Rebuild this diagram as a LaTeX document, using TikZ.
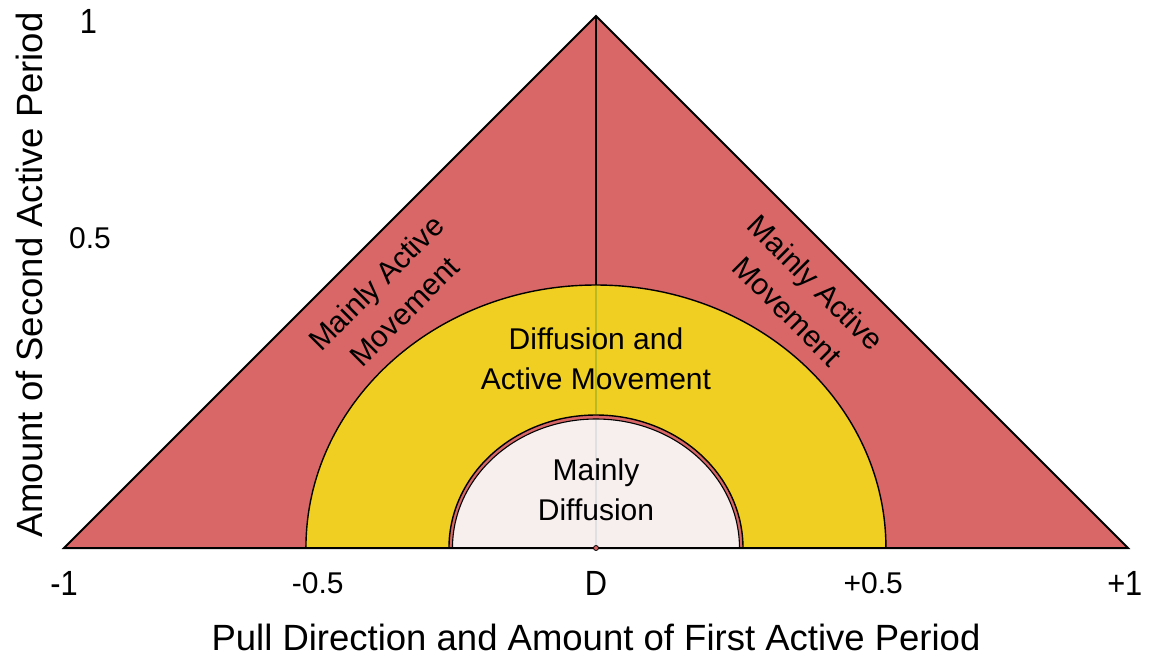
\documentclass[tikz,border=0pt]{standalone}
\usepackage{fontspec}
\setmainfont{Liberation Sans}
\usepackage{graphicx}
\usepackage{tikz}
\usetikzlibrary{
	positioning,
	calc
}
\usepackage{xcolor}

\definecolor{activered}{RGB}{217,103,103}
\definecolor{mixyellow}{RGB}{240,206,34}
\definecolor{diffwhite}{RGB}{247,238,238}
\definecolor{oliveline}{RGB}{185,185,35}

\newcommand{\narrowtick}[1]{\scalebox{0.88}[1]{#1}}

\begin{document}
\begin{tikzpicture}[x=532pt,y=532pt,
		region/.style={draw=black, line width=1.4pt},
		lbl/.style={font=\fontsize{30}{40}\selectfont, align=center, inner sep=0pt},
		bigtick/.style={font=\fontsize{35}{40}\selectfont, inner sep=0pt},
		bigl/.style={font=\fontsize{36.5}{40}\selectfont, inner sep=0pt}]
		
		\useasboundingbox (-1.1203,-0.2086) rectangle (1.0470,1.0301);
		
		% Triangle
		\fill[activered] (-1,0) -- (0,1) -- (1,0) -- cycle;
		\draw[line width=1.6pt] (0,1) -- (0,0.494);
		
		% Diffusion and active movement
		\draw[region, fill=mixyellow]
		(0.545,0) arc[start angle=0, end angle=180, x radius=290pt, y radius=263pt] -- cycle;
		\draw[line width=1.6pt, oliveline] (0,0.492) -- (0,0.252);
		
		% Mainly diffusion
		\draw[region, fill=activered]
		(0.2763,0) arc[start angle=0, end angle=180, x radius=147pt, y radius=133pt] -- cycle;
		\draw[line width=1.1pt, fill=diffwhite]
		(0.2697,0) arc[start angle=0, end angle=180, x radius=143.5pt, y radius=129pt] -- cycle;
		\draw[line width=1.2pt, black!12] (0,0.24) -- (0,0.004);
		
		% Outline
		\draw[line width=2pt, line join=miter] (-1,0) -- (0,1) -- (1,0) -- cycle;
		\draw[fill=activered, line width=0.8pt] (0,0) circle (2.5pt);
		
		% Axis labels
		\node[bigl, rotate=90] (ylabel) at (-1.064,0.513) {Amount of Second Active Period};
		\node[bigl] (xlabel) at (0,-0.169) {Pull Direction and Amount of First Active Period};
		
		\node[bigtick] (ytop) at (-0.954,0.989) {\narrowtick{1}};
		\node[lbl] (ymid) at (-0.951,0.583) {0.5};
		
		\node[bigtick] (xminus) at (-1.0,-0.066) {\narrowtick{-1}};
		\node[lbl] (xminushalf) at (-0.523,-0.066) {-0.5};
		\node[bigtick] (xzero) at (0,-0.066) {\narrowtick{D}};
		\node[lbl] (xplushalf) at (0.521,-0.066) {+0.5};
		\node[bigtick] (xplus) at (0.994,-0.066) {\narrowtick{+1}};
		
		% Region labels
		\node[lbl, rotate=45] (leftactive) at (-0.387,0.472) {Mainly Active\\Movement};
		\node[lbl, rotate=-45] (rightactive) at (0.387,0.472) {Mainly Active\\Movement};
		\node[lbl] (mixed) at (0,0.355) {Diffusion and\\Active Movement};
		\node[lbl] (diffusion) at (0,0.109) {Mainly\\Diffusion};
		
	\end{tikzpicture}
\end{document}
